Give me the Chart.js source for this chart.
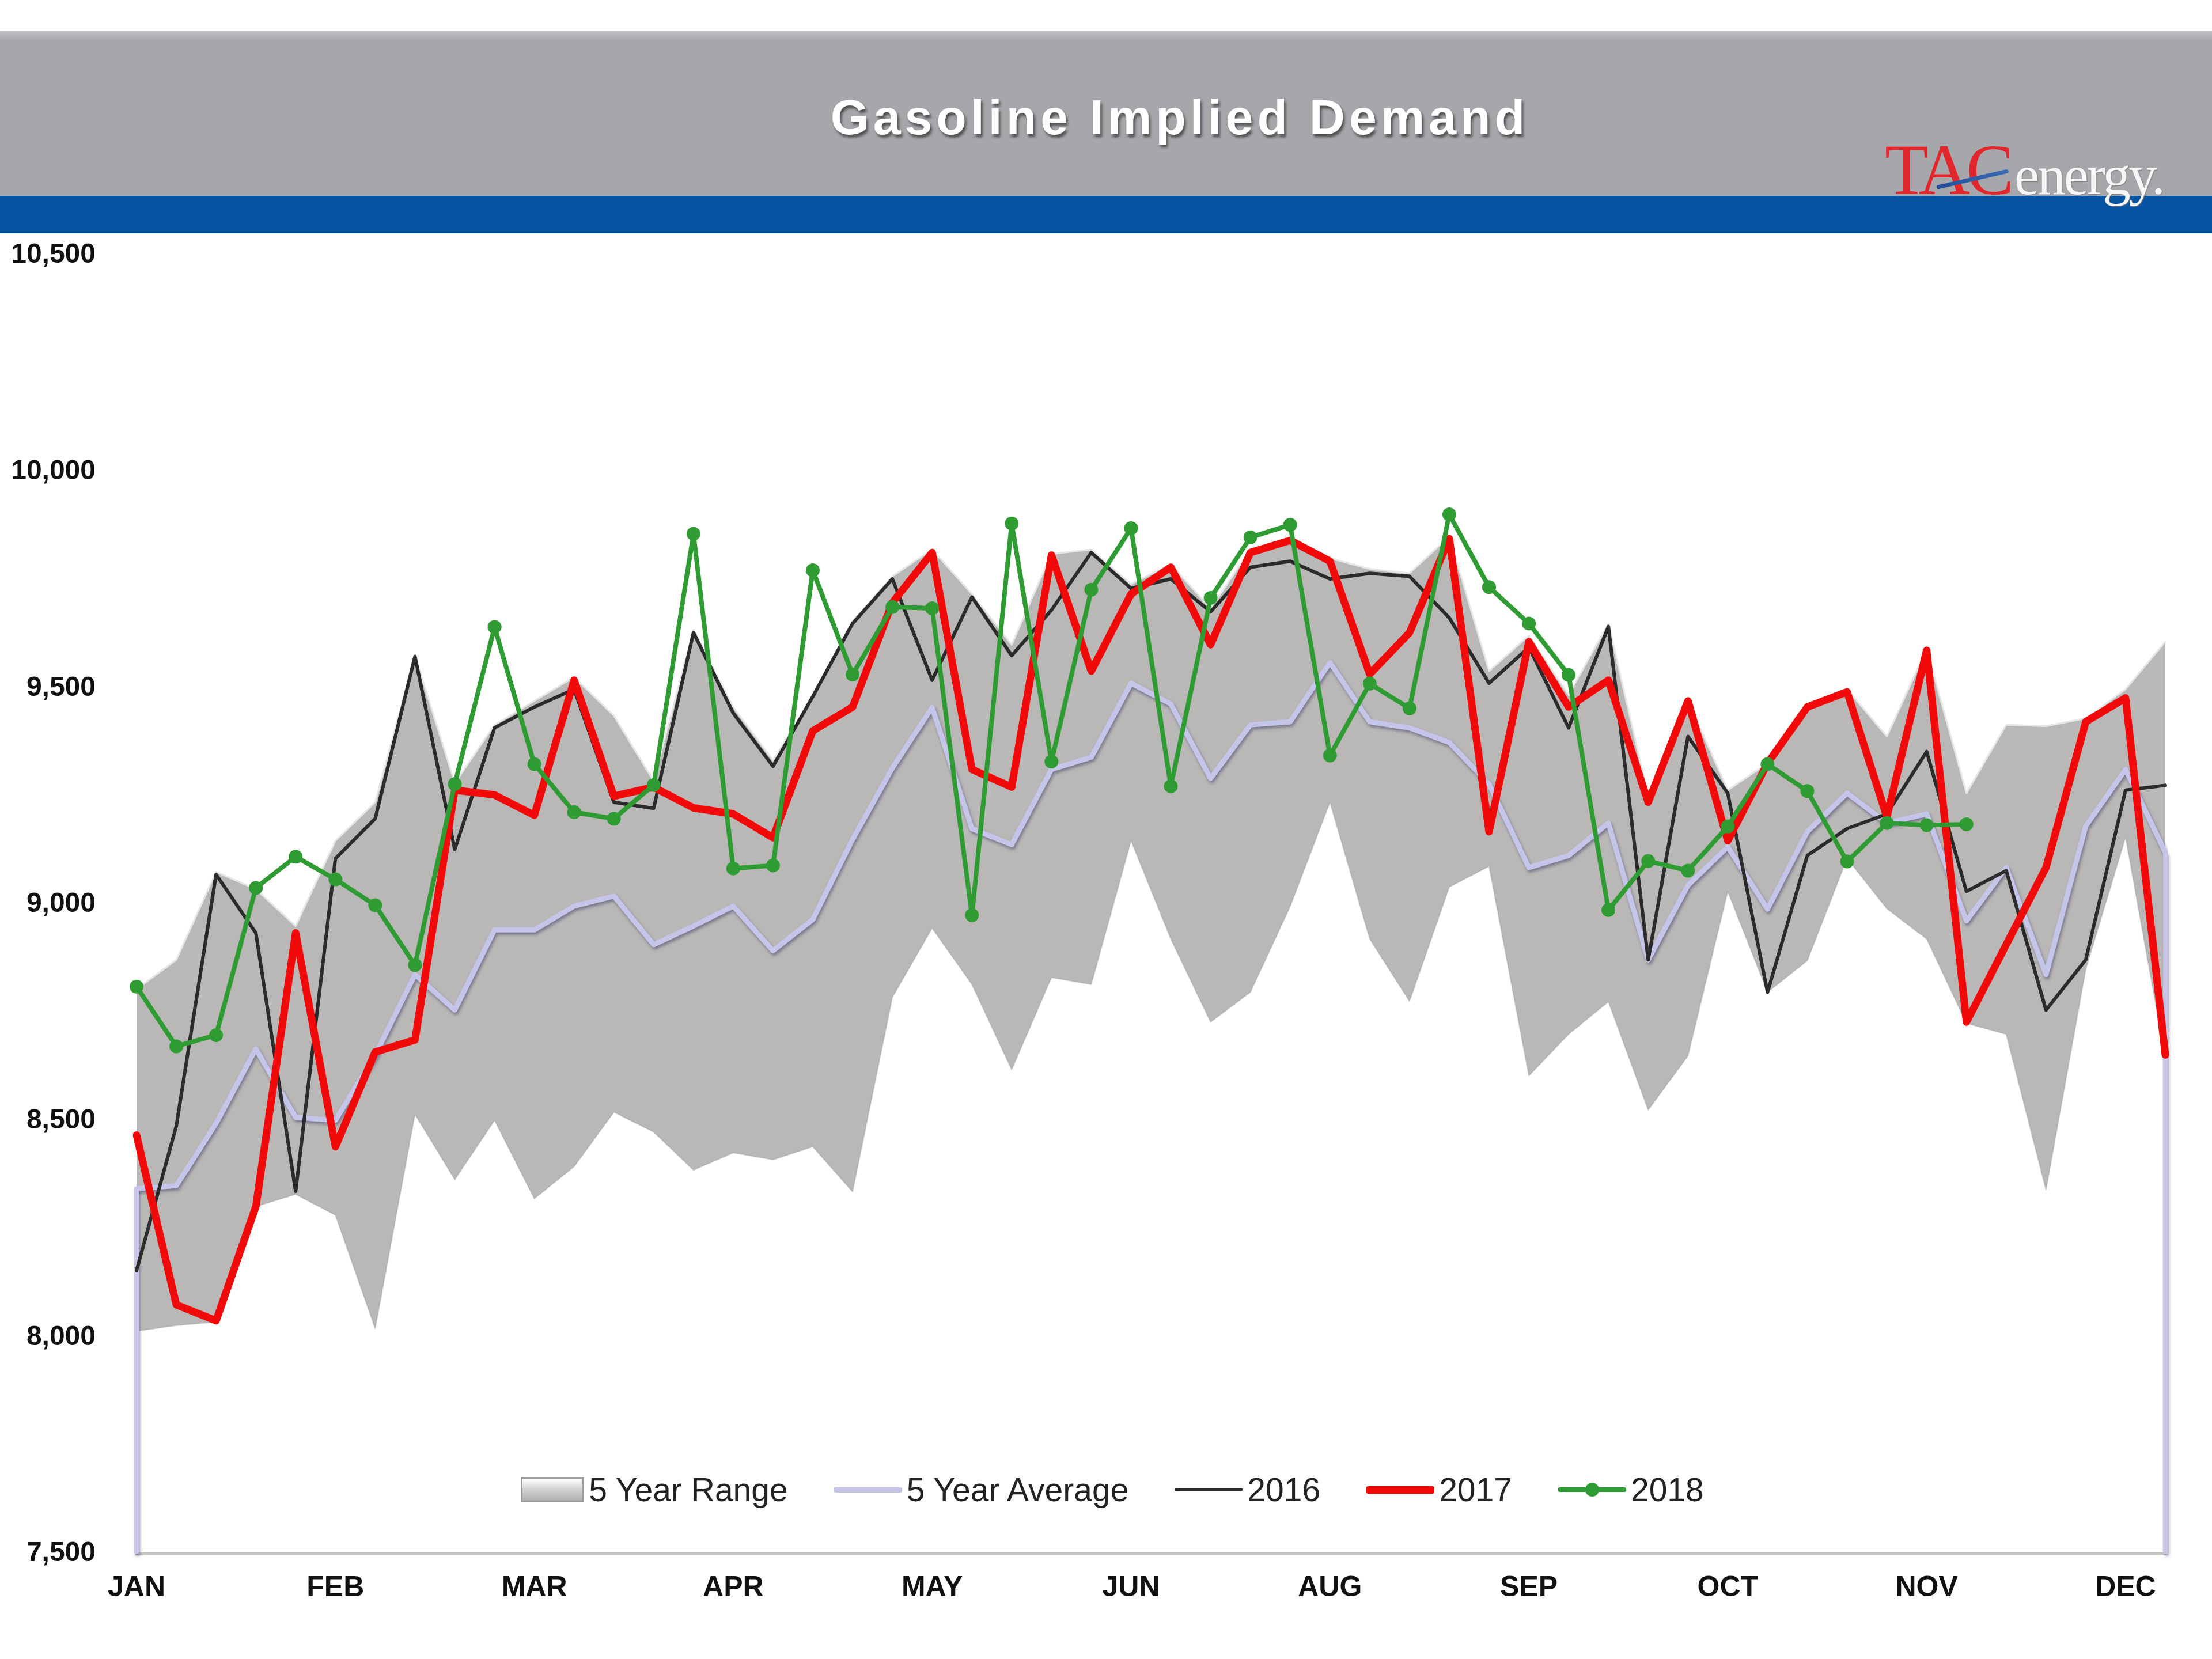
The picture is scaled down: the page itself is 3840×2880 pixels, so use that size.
<!DOCTYPE html>
<html>
<head>
<meta charset="utf-8">
<title>Gasoline Implied Demand</title>
<script src="https://cdn.jsdelivr.net/npm/chart.js@4.4.1/dist/chart.umd.min.js"></script>
<style>
  html, body { margin: 0; padding: 0; background: #fff; }
  #page { position: relative; width: 3840px; height: 2880px; overflow: hidden; font-family: "Liberation Sans", Arial, sans-serif; }
  #header { position: absolute; left: 0; top: 54px; width: 3840px; height: 286px; background: linear-gradient(#bdbec1, #a6a7ab 6%, #a6a7ab); }
  #blueband { position: absolute; left: 0; top: 340px; width: 3840px; height: 65px; background: #0553a3; }
  #title { position: absolute; left: 1048px; top: 160px; width: 2000px; text-align: center; font-size: 86px; line-height: 86px; font-weight: bold; letter-spacing: 7px; color: #fff; text-shadow: 3px 5px 4px rgba(60,60,60,0.8); }
  #logo { position: absolute; left: 3272px; top: 234px; line-height: 124px; white-space: nowrap; font-family: "Liberation Serif", "Times New Roman", serif; }
  #logo .tac { font-size: 124px; color: #e1262c; letter-spacing: -7px; }
  #logo .energy { font-size: 97px; color: #f6f6f6; letter-spacing: -3px; text-shadow: 1px 1px 2px #7a7a7a; margin-left: 8px; }
  #slash { position: absolute; left: 3362px; top: 322px; width: 128px; height: 7px; border-radius: 4px; background: linear-gradient(90deg, #1f4f99, #3b6bb5); transform: rotate(-13deg); transform-origin: left center; }
  #chartBox { position: absolute; left: 0; top: 405px; width: 3840px; height: 2475px; }
  #legend { position: absolute; left: 11px; top: 2551px; width: 3840px; height: 70px; display: flex; justify-content: center; align-items: center; gap: 80px; font-size: 57px; color: #222; }
  #legend .item { display: flex; align-items: center; gap: 8px; }
  #legend .icon { position: relative; width: 118px; height: 44px; }
</style>
</head>
<body>
<div id="page">
  <div id="header"></div>
  <div id="blueband"></div>
  <div id="title">Gasoline Implied Demand</div>
  <div id="logo"><span class="tac">TAC</span><span class="energy">energy.</span></div>
  <div id="slash"></div>
  <div id="chartBox"><canvas id="chart"></canvas></div>
  <div id="legend"></div>
</div>
<script>
// weekly values, thousand b/d
const monthNames = ['JAN', 'FEB', 'MAR', 'APR', 'MAY', 'JUN', 'AUG', 'SEP', 'OCT', 'NOV', 'DEC'];

const range5Max = [8804, 8872, 9075, 9035, 8950, 9147, 9236, 9575, 9280, 9415,
    9470, 9525, 9436, 9285, 9635, 9456, 9333, 9480, 9655, 9758,
    9820, 9717, 9600, 9810, 9820, 9740, 9786, 9683, 9820, 9848,
    9800, 9775, 9765, 9850, 9539, 9621, 9484, 9649, 9250, 9470,
    9264, 9326, 9456, 9497, 9388, 9590, 9257, 9415, 9412, 9430,
    9497, 9607];

const range5Min = [8014, 8027, 8035, 8302, 8330, 8282, 8020, 8515, 8364, 8501,
    8320, 8394, 8520, 8474, 8386, 8426, 8410, 8440, 8336, 8785,
    8945, 8815, 8618, 8831, 8815, 9147, 8920, 8728, 8797, 8995,
    9236, 8920, 8776, 9040, 9088, 8604, 8700, 8775, 8525, 8650,
    9030, 8797, 8870, 9106, 8990, 8920, 8725, 8700, 8340, 8850,
    9155, 8645];

const avg5 = [8343, 8350, 8494, 8666, 8508, 8501, 8652, 8838, 8756, 8941,
    8941, 8996, 9019, 8907, 8950, 8996, 8893, 8965, 9150, 9315,
    9455, 9175, 9138, 9312, 9340, 9511, 9463, 9291, 9415, 9422,
    9559, 9422, 9408, 9374, 9278, 9085, 9113, 9188, 8872, 9044,
    9133, 8989, 9168, 9257, 9188, 9209, 8962, 9085, 8838, 9181,
    9312, 9120];

const y2016 = [8154, 8488, 9069, 8934, 8337, 9106, 9198, 9573, 9127, 9408,
    9456, 9497, 9236, 9222, 9628, 9442, 9319, 9480, 9649, 9752,
    9518, 9710, 9575, 9680, 9813, 9730, 9752, 9676, 9779, 9793,
    9752, 9765, 9758, 9662, 9511, 9594, 9408, 9642, 8872, 9388,
    9257, 8797, 9113, 9175, 9209, 9353, 9030, 9078, 8756, 8872,
    9264, 9275];

const y2017 = [8467, 8075, 8038, 8302, 8934, 8440, 8659, 8687, 9264, 9253,
    9206, 9518, 9250, 9271, 9223, 9209, 9154, 9401, 9456, 9697,
    9813, 9312, 9271, 9807, 9539, 9717, 9779, 9600, 9813, 9841,
    9793, 9532, 9628, 9845, 9168, 9607, 9456, 9518, 9236, 9470,
    9147, 9326, 9456, 9491, 9202, 9587, 8728, 8907, 9085, 9422,
    9477, 8652];

const y2018 = [8810, 8672, 8698, 9038, 9110, 9058, 8998, 8860, 9278, 9641,
    9324, 9213, 9198, 9276, 9856, 9083, 9090, 9772, 9531, 9687,
    9684, 8975, 9880, 9330, 9727, 9869, 9273, 9708, 9848, 9877,
    9344, 9510, 9453, 9901, 9733, 9649, 9530, 8987, 9100, 9078,
    9180, 9324, 9262, 9099, 9188, 9183, 9185];

// one label every 5 weeks, like the original
const weekLabels = range5Max.map((v, i) => (i % 5 === 0 ? monthNames[i / 5] : ''));

const avgColor = '#c4c5e8';

// soft shadow under the 5 year average + vertical drops at both ends
const avgStyle = {
    id: 'avgStyle',
    beforeDatasetDraw(chart, args) {
        if (args.index !== 2) return;
        const ctx = chart.ctx;
        ctx.save();
        ctx.shadowColor = 'rgba(70,70,100,0.55)';
        ctx.shadowBlur = 5;
        ctx.shadowOffsetX = 2;
        ctx.shadowOffsetY = 4;
    },
    afterDatasetDraw(chart, args) {
        if (args.index !== 2) return;
        const ctx = chart.ctx;
        const pts = args.meta.data;
        const bottom = chart.chartArea.bottom;
        ctx.strokeStyle = avgColor;
        ctx.lineWidth = 8;
        [pts[0], pts[pts.length - 1]].forEach(p => {
            ctx.beginPath();
            ctx.moveTo(p.x, p.y);
            ctx.lineTo(p.x, bottom);
            ctx.stroke();
        });
        ctx.restore();
    }
};

const ctx = document.getElementById('chart').getContext('2d');
const chart = new Chart(ctx, {
    type: 'line',
    data: {
        labels: weekLabels,
        datasets: [
            {
                label: '5 Year Range',
                data: range5Max,
                borderColor: '#e6e6e6',
                borderWidth: 3,
                backgroundColor: '#bab7b7',
                fill: '+1',
                pointRadius: 0,
                order: 6
            },
            {
                label: '',
                data: range5Min,
                borderColor: 'rgba(150,150,150,0.35)',
                borderWidth: 2,
                pointRadius: 0,
                fill: false,
                order: 5
            },
            {
                label: '5 Year Average',
                data: avg5,
                borderColor: avgColor,
                borderWidth: 9,
                pointRadius: 0,
                fill: false,
                order: 4
            },
            {
                label: '2016',
                data: y2016,
                borderColor: '#2b2b2b',
                borderWidth: 6,
                pointRadius: 0,
                fill: false,
                order: 3
            },
            {
                label: '2017',
                data: y2017,
                borderColor: '#f20a0a',
                borderWidth: 13,
                pointRadius: 0,
                fill: false,
                order: 2
            },
            {
                label: '2018',
                data: y2018,
                borderColor: '#2f9c33',
                backgroundColor: '#2f9c33',
                borderWidth: 8,
                pointRadius: 12,
                pointBorderWidth: 0,
                pointBackgroundColor: '#2f9c33',
                fill: false,
                order: 1
            }
        ]
    },
    options: {
        responsive: true,
        maintainAspectRatio: false,
        devicePixelRatio: 1,
        animation: false,
        layout: {
            padding: { top: 38, right: 81, bottom: 63, left: 0 }
        },
        elements: {
            line: { tension: 0, borderJoinStyle: 'round', borderCapStyle: 'round' }
        },
        plugins: {
            legend: { display: false },
            tooltip: { enabled: false }
        },
        scales: {
            x: {
                grid: { display: false, drawTicks: false },
                border: { display: true, color: '#c4c4c4', width: 5 },
                ticks: {
                    autoSkip: false,
                    maxRotation: 0,
                    padding: 30,
                    color: '#111',
                    font: { family: '"Liberation Sans", Arial, sans-serif', size: 50, weight: 'bold' }
                }
            },
            y: {
                min: 7500,
                max: 10500,
                grid: { display: false, drawTicks: true, tickLength: 71 },
                border: { display: false },
                afterFit: (scale) => { scale.width = 237; },
                ticks: {
                    stepSize: 500,
                    padding: 0,
                    color: '#111',
                    font: { family: '"Liberation Sans", Arial, sans-serif', size: 48, weight: 'bold' },
                    callback: (value) => value.toLocaleString('en-US')
                }
            }
        }
    },
    plugins: [avgStyle]
});

// legend drawn inside the plot, built from the datasets
const legendBox = document.getElementById('legend');
chart.data.datasets.forEach(ds => {
    if (!ds.label) return;
    const item = document.createElement('div');
    item.className = 'item';
    const icon = document.createElement('div');
    icon.className = 'icon';
    if (ds.fill) {
        icon.style.width = '110px';
        icon.style.boxSizing = 'border-box';
        icon.style.border = '3px solid #9a9a9a';
        icon.style.background = 'linear-gradient(#ffffff, #d6d6d6 45%, #b0b0b0)';
    } else {
        const line = document.createElement('div');
        line.style.position = 'absolute';
        line.style.left = '0';
        line.style.right = '0';
        line.style.top = (22 - ds.borderWidth / 2) + 'px';
        line.style.height = ds.borderWidth + 'px';
        line.style.borderRadius = '3px';
        line.style.background = ds.borderColor;
        icon.appendChild(line);
        if (ds.pointRadius) {
            const dot = document.createElement('div');
            dot.style.position = 'absolute';
            dot.style.left = (59 - ds.pointRadius) + 'px';
            dot.style.top = (22 - ds.pointRadius) + 'px';
            dot.style.width = dot.style.height = (ds.pointRadius * 2) + 'px';
            dot.style.borderRadius = '50%';
            dot.style.background = ds.pointBackgroundColor;
            icon.appendChild(dot);
        }
    }
    const text = document.createElement('span');
    text.textContent = ds.label;
    item.appendChild(icon);
    item.appendChild(text);
    legendBox.appendChild(item);
});
</script>
</body>
</html>
